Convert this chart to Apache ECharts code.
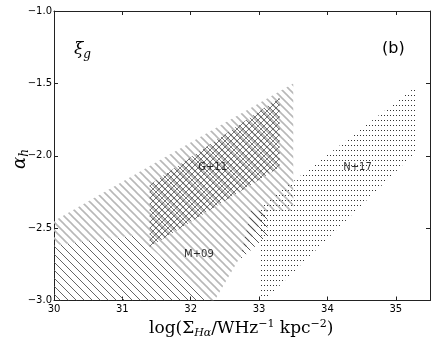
<!DOCTYPE html>
<html><head><meta charset="utf-8">
<script src="https://cdn.jsdelivr.net/npm/echarts/dist/echarts.min.js"></script>
<style>html,body{margin:0;padding:0;background:#fff}#c{width:436px;height:347px}</style>
</head><body><div id="c"></div>
<script>
// axis ticks
const xTicks = [30, 31, 32, 33, 34, 35];
const yTicks = [-3.0, -2.5, -2.0, -1.5, -1.0];
// M+09 (lower part, thin black hatch)
const m09LowX = [30.0, 30.0, 31.2, 32.3];
const m09LowY = [-3.0, -2.62, -2.55, -3.0];
// M+09 (right part, thin black hatch)
const m09RX = [32.72, 32.88, 33.12, 33.12];
const m09RY = [-2.72, -2.38, -2.38, -2.55];
// M+09 (main band, grey hatch)
const m09X = [30.0, 33.5, 33.5, 33.12, 32.35, 32.3, 31.2, 30.0];
const m09Y = [-2.45, -1.5, -2.38, -2.38, -3.0, -3.0, -2.55, -2.62];
// G+11 (cross hatch)
const g11X = [31.4, 33.3, 33.3, 31.4];
const g11Y = [-2.2, -1.6, -2.08, -2.63];
// N+17 (dots)
const n17X = [33.0, 33.0, 35.3, 35.3, 33.08];
const n17Y = [-3.0, -2.36, -1.52, -1.97, -3.0];
// region labels
const labelText = ['G+11', 'N+17', 'M+09'];
const labelX = [32.32, 34.44, 32.12];
const labelY = [-2.08, -2.08, -2.68];

function hatch(period, color, width, dirs) {
  const c = document.createElement('canvas');
  c.width = period; c.height = period;
  const g = c.getContext('2d');
  g.strokeStyle = color; g.lineWidth = width;
  for (const d of dirs) for (const k of [-period, 0, period]) {
    g.beginPath();
    if (d === 'back') { g.moveTo(k - 1, -1); g.lineTo(k + period + 1, period + 1); }
    else { g.moveTo(k - 1, period + 1); g.lineTo(k + period + 1, -1); }
    g.stroke();
  }
  return { image: c, repeat: 'repeat' };
}
function dots(w, h, color) {
  const c = document.createElement('canvas');
  c.width = w; c.height = h;
  const g = c.getContext('2d');
  g.fillStyle = color;
  g.fillRect(0, 0, 1, 1);
  return { image: c, repeat: 'repeat' };
}
function poly(xs, ys, fill, z) {
  return {
    type: 'custom', coordinateSystem: 'cartesian2d', clip: true, silent: true, z: z,
    data: xs.map((x, i) => [x, ys[i]]),
    renderItem: function (params, api) {
      if (params.dataIndex !== 0) return null;
      const pts = xs.map((x, i) => api.coord([x, ys[i]]));
      return { type: 'polygon', shape: { points: pts }, style: { fill: fill, stroke: null } };
    }
  };
}
const fmtY = v => (v < 0 ? '\u2212' : '') + Math.abs(v).toFixed(1);
const chart = echarts.init(document.getElementById('c'));
const axisLine = { show: true, lineStyle: { color: '#222', width: 1 } };
chart.setOption({
  animation: false,
  grid: { left: 54, top: 11, width: 376, height: 289.5, containLabel: false },
  xAxis: [
    { type: 'value', min: 30, max: 35.5, interval: 1, position: 'bottom', axisLine: axisLine,
      axisTick: { inside: true, length: 4, lineStyle: { color: '#222' } }, splitLine: { show: false },
      axisLabel: { margin: 4, fontFamily: 'DejaVu Sans', fontSize: 10, color: '#000',
        formatter: v => xTicks.includes(v) ? String(v) : '' } },
    { type: 'value', min: 30, max: 35.5, interval: 1, position: 'top', axisLine: axisLine,
      axisTick: { inside: true, length: 4, lineStyle: { color: '#222' } }, splitLine: { show: false },
      axisLabel: { show: false } }
  ],
  yAxis: [
    { type: 'value', min: -3, max: -1, interval: 0.5, position: 'left', axisLine: axisLine,
      axisTick: { show: true, inside: true, length: 4, lineStyle: { color: '#222' } }, splitLine: { show: false },
      axisLabel: { margin: 2, fontFamily: 'DejaVu Sans', fontSize: 10, color: '#000',
        formatter: v => yTicks.includes(v) ? fmtY(v) : '' } },
    { type: 'value', min: -3, max: -1, interval: 0.5, position: 'right', axisLine: axisLine,
      axisTick: { show: true, inside: true, length: 4, lineStyle: { color: '#222' } }, splitLine: { show: false },
      axisLabel: { show: false } }
  ],
  series: [
    poly(m09LowX, m09LowY, hatch(8, '#555', 0.9, ['back']), 1),
    poly(m09X, m09Y, hatch(8, '#b8b8b8', 1.6, ['back']), 2),
    poly(m09RX, m09RY, hatch(8, '#444', 0.9, ['back']), 3),
    poly(g11X, g11Y, hatch(6, '#555', 0.8, ['back', 'fwd']), 4),
    poly(n17X, n17Y, dots(3, 5, '#333'), 5),
    { type: 'scatter', symbolSize: 0, z: 10, silent: true,
      data: labelText.map((t, i) => ({ value: [labelX[i], labelY[i]], name: t })),
      label: { show: true, position: 'inside', formatter: p => p.name,
        fontFamily: 'DejaVu Sans', fontSize: 10, color: '#000' } }
  ],
  graphic: [
    { type: 'text', left: 74, top: 41, style: { text: '{a|ξ}{s|g}',
      rich: { a: { fontFamily: 'DejaVu Serif', fontStyle: 'italic', fontSize: 17, fill: '#000' },
              s: { fontFamily: 'DejaVu Serif', fontStyle: 'italic', fontSize: 12, fill: '#000', padding: [10, 0, 0, 0] } } } },
    { type: 'text', left: 382, top: 41, style: { text: '(b)', font: '16px "DejaVu Sans"', fill: '#000' } },
    { type: 'text', left: 149, top: 319, style: {
      text: '{a|log(Σ}{i|Hα}{a|/WHz}{p|−1}{a| kpc}{p|−2}{a|)}',
      rich: { a: { fontFamily: 'DejaVu Serif', fontSize: 17, fill: '#000' },
              i: { fontFamily: 'DejaVu Serif', fontStyle: 'italic', fontSize: 11, fill: '#000', padding: [9, 0, 0, 0] },
              p: { fontFamily: 'DejaVu Serif', fontSize: 11, fill: '#000', padding: [0, 0, 9, 0] } } } },
    { type: 'text', x: 9, y: 169, rotation: Math.PI / 2, style: {
      text: '{a|α}{s|h}',
      rich: { a: { fontFamily: 'DejaVu Serif', fontStyle: 'italic', fontSize: 18, fill: '#000' },
              s: { fontFamily: 'DejaVu Serif', fontStyle: 'italic', fontSize: 12, fill: '#000', padding: [10, 0, 0, 0] } } } }
  ]
});
</script></body></html>
